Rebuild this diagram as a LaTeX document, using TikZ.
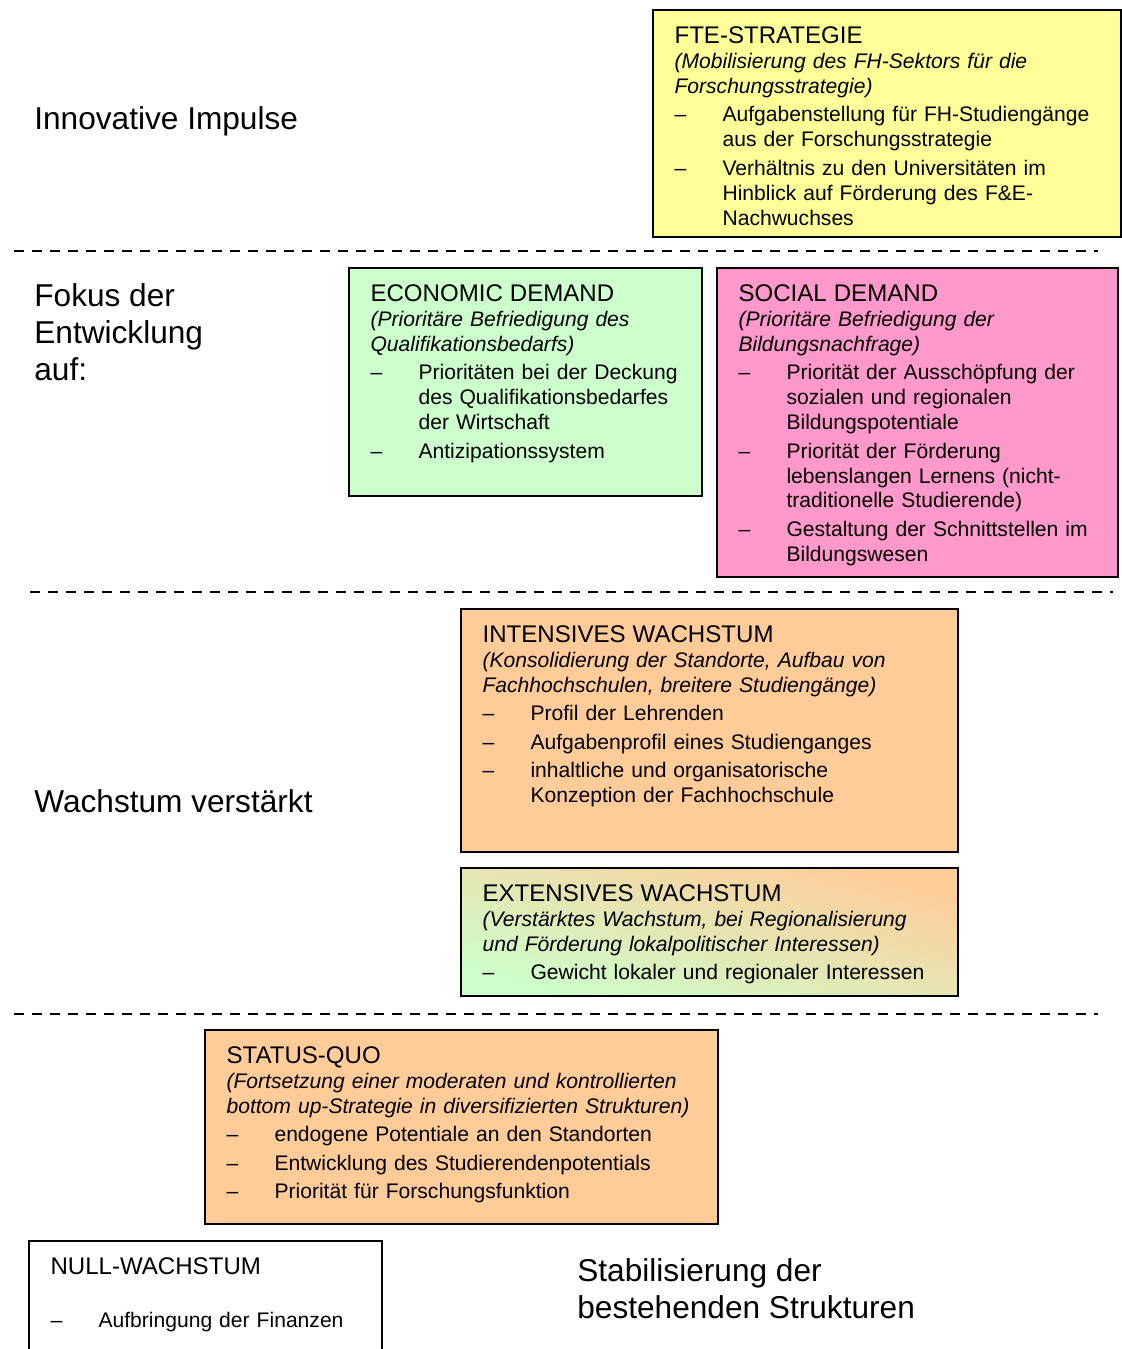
\documentclass[tikz,border=0pt]{standalone}
\usepackage{fontspec}
\setmainfont{Liberation Sans}
\usetikzlibrary{fit}

\definecolor{gelb}{HTML}{FFFF99}
\definecolor{gruen}{HTML}{CCFFCC}
\definecolor{rosa}{HTML}{FF99CC}
\definecolor{orange}{HTML}{FFCC99}

\newcommand{\boxfont}{\fontsize{12}{14.2}\selectfont}
\newcommand{\bigfont}{\fontsize{18}{21}\selectfont}
\newcommand{\titel}[1]{{\fontsize{13.7}{14.2}\selectfont #1}}
% dash with hanging indent, lines broken by \newline
\newcommand{\punkt}[1]{\par\hangindent=0.96cm\hangafter=1\noindent\makebox[0.96cm][l]{--}#1\par}

\tikzstyle{feld} = [rectangle, draw=black, line width=0.9pt, inner sep=0pt]
\tikzstyle{inhalt} = [anchor=north west, inner sep=0pt, align=left, font=\boxfont, execute at begin node={\setlength{\parskip}{0.07cm}}]
\tikzstyle{stufe} = [anchor=west, inner sep=0pt, align=left, font=\bigfont]
\tikzstyle{trenner} = [line width=1pt, dash pattern=on 0.2cm off 0.16cm]

\begin{document}
\begin{tikzpicture}[x=0.02cm, y=-0.02cm]
\useasboundingbox (0,0) rectangle (1122,1349);

% levels on the left
\node (impulse) [stufe] at (34,121) {Innovative Impulse};
\node (fokus) [stufe] at (34,332) {Fokus der\\Entwicklung\\auf:};
\node (wachstum) [stufe] at (34,801) {Wachstum verstärkt};
\node (stabil) [stufe] at (577,1289) {Stabilisierung der\\bestehenden Strukturen};

% separators
\draw[trenner] (14,251) -- (1098,251);
\draw[trenner] (30,592) -- (1113,592);
\draw[trenner] (14,1014) -- (1098,1014);

% boxes
\node (fte) [feld, fill=gelb, fit={(653,10) (1121,237)}] {};
\node (econ) [feld, fill=gruen, fit={(349,268) (702,496)}] {};
\node (social) [feld, fill=rosa, fit={(717,268) (1118,577)}] {};
\node (intensiv) [feld, fill=orange, fit={(461,609) (958,852)}] {};
\node (extensiv) [feld, shading=axis, top color=orange, bottom color=gruen, shading angle=-15, fit={(461,868) (958,996)}] {};
\node (status) [feld, fill=orange, fit={(205,1030) (718,1224)}] {};
\node (null) [feld, fill=white, fit={(29,1241) (382,1360)}] {};

\node (fte-t) [inhalt, text width=8.8cm] at ([shift={(22,17)}]fte.north west) {\titel{FTE-STRATEGIE}\\
  \textit{(Mobilisierung des FH-Sektors für die}\\
  \textit{Forschungsstrategie)}
  \punkt{Aufgabenstellung für FH-Studiengänge\newline aus der Forschungsstrategie}
  \punkt{Verhältnis zu den Universitäten im\newline Hinblick auf Förderung des F\&E-\newline Nachwuchses}};

\node (econ-t) [inhalt, text width=6.6cm] at ([shift={(22,17)}]econ.north west) {\titel{ECONOMIC DEMAND}\\
  \textit{(Prioritäre Befriedigung des}\\
  \textit{Qualifikationsbedarfs)}
  \punkt{Prioritäten bei der Deckung\newline des Qualifikationsbedarfes\newline der Wirtschaft}
  \punkt{Antizipationssystem}};

\node (social-t) [inhalt, text width=7.6cm] at ([shift={(22,17)}]social.north west) {\titel{SOCIAL DEMAND}\\
  \textit{(Prioritäre Befriedigung der}\\
  \textit{Bildungsnachfrage)}
  \punkt{Priorität der Ausschöpfung der\newline sozialen und regionalen\newline Bildungspotentiale}
  \punkt{Priorität der Förderung\newline lebenslangen Lernens (nicht-\newline traditionelle Studierende)}
  \punkt{Gestaltung der Schnittstellen im\newline Bildungswesen}};

\node (intensiv-t) [inhalt, text width=9.5cm] at ([shift={(22,17)}]intensiv.north west) {\titel{INTENSIVES WACHSTUM}\\
  \textit{(Konsolidierung der Standorte, Aufbau von}\\
  \textit{Fachhochschulen, breitere Studiengänge)}
  \punkt{Profil der Lehrenden}
  \punkt{Aufgabenprofil eines Studienganges}
  \punkt{inhaltliche und organisatorische\newline Konzeption der Fachhochschule}};

\node (extensiv-t) [inhalt, text width=9.5cm] at ([shift={(22,17)}]extensiv.north west) {\titel{EXTENSIVES WACHSTUM}\\
  \textit{(Verstärktes Wachstum, bei Regionalisierung}\\
  \textit{und Förderung lokalpolitischer Interessen)}
  \punkt{Gewicht lokaler und regionaler Interessen}};

\node (status-t) [inhalt, text width=9.8cm] at ([shift={(22,17)}]status.north west) {\titel{STATUS-QUO}\\
  \textit{(Fortsetzung einer moderaten und kontrollierten}\\
  \textit{bottom up-Strategie in diversifizierten Strukturen)}
  \punkt{endogene Potentiale an den Standorten}
  \punkt{Entwicklung des Studierendenpotentials}
  \punkt{Priorität für Forschungsfunktion}};

\node (null-t) [inhalt, text width=6.6cm] at ([shift={(22,17)}]null.north west) {\titel{NULL-WACHSTUM}\\[0.56cm]
  \punkt{Aufbringung der Finanzen}};
\end{tikzpicture}
\end{document}
